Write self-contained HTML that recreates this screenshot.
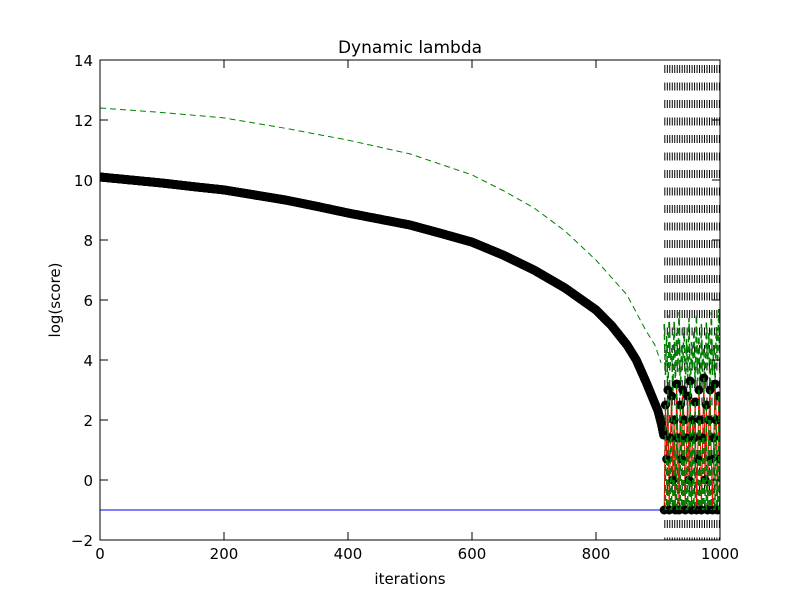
<!DOCTYPE html>
<html><head><meta charset="utf-8"><style>
body{margin:0;background:#fff}
svg text{font-family:"DejaVu Sans","Liberation Sans",sans-serif;}
</style></head><body>
<svg id="chart" width="800" height="600" viewBox="0 0 800 600" xmlns="http://www.w3.org/2000/svg">
<rect x="0" y="0" width="800" height="600" fill="#fff"/>
<g id="marks"></g>
<g id="axes"></g>
<text x="410" y="53" font-size="17" text-anchor="middle">Dynamic lambda</text>
<text x="410" y="584" font-size="15" text-anchor="middle">iterations</text>
<text transform="translate(60,300) rotate(-90)" font-size="15" text-anchor="middle">log(score)</text>
</svg>
<script>
const xTicks=[0,200,400,600,800,1000];
const yTicks=[-2,0,2,4,6,8,10,12,14];
const mainIter=[0,50,100,150,200,250,300,350,400,450,500,550,600,650,700,750,800,825,850,865,880,890,900,905,910];
const mainScore=[10.1,10.0,9.9,9.78,9.67,9.5,9.33,9.12,8.9,8.7,8.5,8.22,7.93,7.5,7.0,6.4,5.67,5.15,4.5,4.0,3.3,2.8,2.3,1.9,1.4];
const upperIter=[0,100,200,300,400,500,600,650,700,750,800,850,880,895,905];
const upperScore=[12.4,12.25,12.07,11.72,11.33,10.87,10.17,9.65,9.07,8.3,7.33,6.17,5.0,4.5,3.9];
const blueLevel=-1;
const chaosIter=[910,912,914,916,918,920,922,924,926,928,930,932,934,936,938,940,942,944,946,948,950,952,954,956,958,960,962,964,966,968,970,972,974,976,978,980,982,984,986,988,990,992,994,996,998,1000];
const chaosScore=[-1,2.5,0.7,3,-1,1.4,2.8,0,2,-1,3.2,1.4,-1,2.5,0.7,3,2,-1,1.4,2.8,0,3.3,-1,2,1.4,2.6,-1,0.7,3,2,-1,1.4,3.4,0,2.5,-1,2,3,0.7,-1,1.4,3.2,2,-1,2.8,0.7];
const chaosUpper=[5.2,3.5,4.8,2.6,5.5,3.8,4.4,2.9,5.3,3.2,4.9,3.6,5.6,2.8,4.5,3.9,5.1,3.0,4.7,3.4,5.4,2.7,4.6,3.7,5.0,3.1,5.5,3.3,4.8,2.9,5.2,3.6,4.4,3.0,5.3,3.8,4.9,2.8,5.6,3.5,4.5,3.2,5.1,3.9,5.7,3.3];
const vlineIter=[911,915,919,923,927,931,935,939,943,947,951,955,959,963,967,971,975,979,983,987,991,995,999];

const X=v=>100+v*0.62;
const Y=v=>540-(v+2)*30;
const NS="http://www.w3.org/2000/svg";
const marks=document.getElementById('marks');
const axes=document.getElementById('axes');
function mk(tag,attrs,parent){const e=document.createElementNS(NS,tag);for(const k in attrs)e.setAttribute(k,attrs[k]);parent.appendChild(e);return e;}
const clip=mk('clipPath',{id:'pc'},marks);mk('rect',{x:100,y:60,width:620,height:480},clip);
marks.setAttribute('clip-path','url(#pc)');

vlineIter.forEach(v=>{const l=mk('line',{x1:X(v),x2:X(v),y1:65,y2:540,stroke:'#000','stroke-width':1,'stroke-dasharray':'8,9.5'},marks);

});

const bl=mk('line',{x1:X(0),x2:X(1000),y1:Y(blueLevel),y2:Y(blueLevel),stroke:'#0000ff','stroke-width':1},marks);



let d=upperIter.map((v,i)=>(i?'L':'M')+X(v)+','+Y(upperScore[i])).join(' ');
const ug=mk('path',{d:d,fill:'none',stroke:'#008000','stroke-width':1,'stroke-dasharray':'6,4'},marks);



d=chaosIter.map((v,i)=>(i?'L':'M')+X(v)+','+Y(chaosScore[i])).join(' ');
const rl=mk('path',{d:d,fill:'none',stroke:'#ff0000','stroke-width':1},marks);


d=chaosIter.map((v,i)=>(i?'L':'M')+X(v)+','+Y(chaosUpper[i])).join(' ');
const cg=mk('path',{d:d,fill:'none',stroke:'#008000','stroke-width':1.5,'stroke-dasharray':'6,4'},marks);



for(let i=0;i<mainIter.length-1;i++){
  const a=mainIter[i],b=mainIter[i+1];
  for(let t=a;t<b;t+=1){const f=(t-a)/(b-a);const s=mainScore[i]+(mainScore[i+1]-mainScore[i])*f;
    const c=mk('circle',{cx:X(t),cy:Y(s),r:4.5,fill:'#000'},marks);
    
    }
}
chaosIter.forEach((v,i)=>{const c=mk('circle',{cx:X(v),cy:Y(chaosScore[i]),r:4.5,fill:'#000'},marks);

});
chaosIter.forEach((v,i)=>{const l=mk('line',{x1:X(v),x2:X(v),y1:Y(chaosScore[i]),y2:Y(-1),stroke:'#008000','stroke-width':1.5,'stroke-dasharray':'6,4'},marks);

});

const fr=mk('rect',{x:100,y:60,width:620,height:480,fill:'none',stroke:'#000','stroke-width':1},axes);


xTicks.forEach(v=>{mk('line',{x1:X(v),x2:X(v),y1:540,y2:532,stroke:'#000'},axes);mk('line',{x1:X(v),x2:X(v),y1:60,y2:68,stroke:'#000'},axes);
const t=mk('text',{x:X(v),y:559,'font-size':15,'text-anchor':'middle'},axes);t.textContent=v;

});
yTicks.forEach(v=>{mk('line',{x1:100,x2:108,y1:Y(v),y2:Y(v),stroke:'#000'},axes);mk('line',{x1:712,x2:720,y1:Y(v),y2:Y(v),stroke:'#000'},axes);
const t=mk('text',{x:93,y:Y(v)+6,'font-size':15,'text-anchor':'end'},axes);t.textContent=v<0?'\u2212'+(-v):v;

});
</script>
</body></html>
